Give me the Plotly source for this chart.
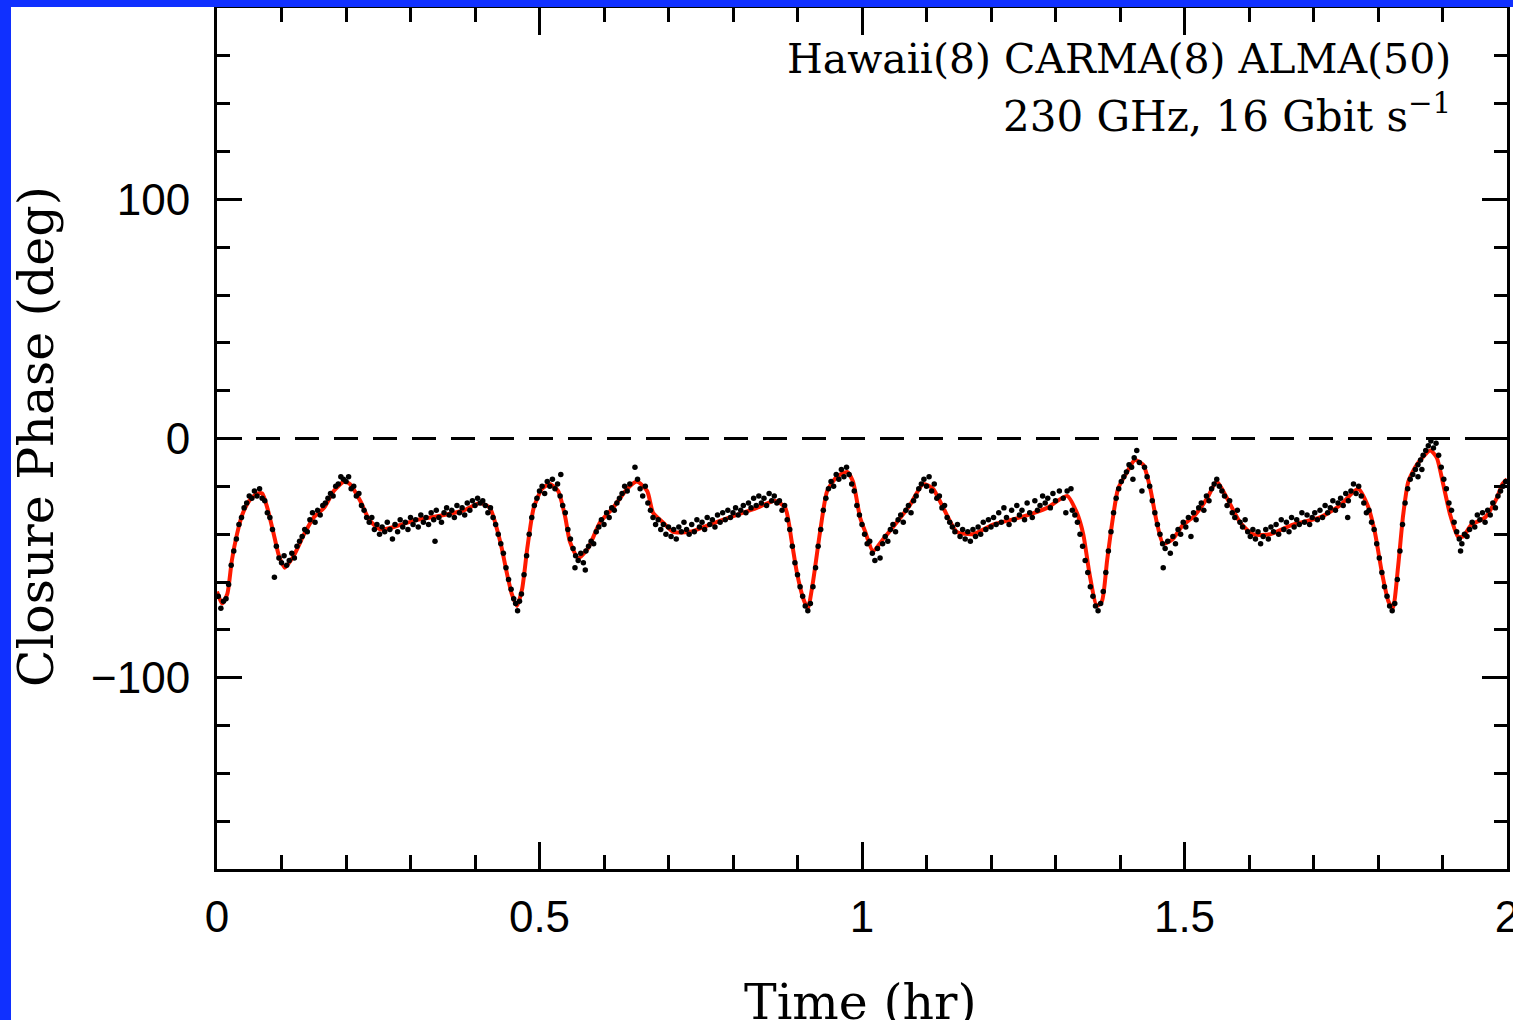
import plotly.graph_objects as go

# ---- model curve (red) ----
model_t = [0.000, 0.008, 0.016, 0.023, 0.031, 0.039, 0.050, 0.062, 0.070, 0.078, 0.088, 0.096,
           0.105, 0.119, 0.135, 0.150, 0.166, 0.181, 0.197, 0.206, 0.222, 0.236, 0.253, 0.274,
           0.310, 0.352, 0.383, 0.408, 0.423, 0.439, 0.450, 0.457, 0.465, 0.473, 0.481, 0.491,
           0.504, 0.516, 0.529, 0.540, 0.547, 0.560, 0.575, 0.594, 0.614, 0.636, 0.651, 0.667,
           0.676, 0.691, 0.707, 0.733, 0.764, 0.795, 0.837, 0.865, 0.881, 0.891, 0.899, 0.909,
           0.916, 0.924, 0.935, 0.946, 0.961, 0.977, 0.986, 0.997, 1.005, 1.017, 1.033, 1.054,
           1.074, 1.095, 1.110, 1.126, 1.147, 1.172, 1.203, 1.245, 1.287, 1.318, 1.333, 1.343,
           1.353, 1.364, 1.372, 1.380, 1.388, 1.397, 1.411, 1.423, 1.436, 1.447, 1.457, 1.467,
           1.482, 1.498, 1.513, 1.535, 1.550, 1.566, 1.586, 1.606, 1.633, 1.668, 1.710, 1.741,
           1.769, 1.784, 1.795, 1.806, 1.816, 1.823, 1.831, 1.839, 1.847, 1.860, 1.881, 1.891,
           1.901, 1.912, 1.924, 1.932, 1.945, 1.966, 1.984, 1.993, 2.000]
model_v = [-64, -69, -65, -51, -40, -32, -26, -23, -23, -29, -40, -49,
           -54, -49, -40, -33, -29, -22, -18, -19, -26, -34, -38, -37,
           -34, -32, -30, -27, -29, -43, -57, -65, -70, -63, -46, -29,
           -21, -19, -22, -33, -43, -50, -46, -35, -29, -21, -18, -22,
           -31, -35, -39, -39, -36, -33, -29, -26, -29, -43, -56, -67,
           -71, -60, -39, -22, -16, -14, -18, -33, -39, -47, -42, -35,
           -28, -19, -21, -29, -39, -40, -36, -33, -29, -24, -31, -40,
           -57, -70, -68, -51, -35, -21, -14, -9, -11, -21, -35, -44,
           -42, -36, -33, -25, -18, -25, -35, -40, -40, -36, -33, -28,
           -21, -28, -39, -56, -68, -71, -54, -32, -18, -11, -5, -8,
           -19, -32, -41, -41, -36, -33, -25, -19, -17]

# ---- measured closure phases (black dots) ----
data_t = [0.002, 0.006, 0.010, 0.014, 0.018, 0.022, 0.026, 0.030, 0.034, 0.038, 0.042, 0.046, 0.050,
          0.054, 0.058, 0.062, 0.066, 0.070, 0.074, 0.078, 0.082, 0.086, 0.089, 0.092, 0.096, 0.100,
          0.104, 0.108, 0.112, 0.116, 0.120, 0.124, 0.128, 0.132, 0.136, 0.140, 0.144, 0.148, 0.152,
          0.156, 0.160, 0.164, 0.168, 0.172, 0.176, 0.180, 0.184, 0.188, 0.192, 0.196, 0.200, 0.204,
          0.208, 0.212, 0.216, 0.220, 0.224, 0.228, 0.232, 0.236, 0.240, 0.244, 0.248, 0.252, 0.256,
          0.260, 0.264, 0.268, 0.272, 0.276, 0.280, 0.284, 0.288, 0.292, 0.296, 0.300,
          0.304, 0.308, 0.312, 0.316, 0.320, 0.324, 0.328, 0.332, 0.336, 0.338, 0.340, 0.344, 0.348,
          0.352, 0.356, 0.360, 0.364, 0.368, 0.372, 0.376, 0.380, 0.384, 0.388, 0.392, 0.396, 0.400,
          0.404, 0.408, 0.412, 0.416, 0.420, 0.424, 0.428, 0.432, 0.436, 0.440, 0.444, 0.448, 0.452,
          0.456, 0.460, 0.463, 0.466, 0.469, 0.472, 0.476, 0.480, 0.484, 0.488, 0.492, 0.496, 0.500,
          0.504, 0.508, 0.512, 0.516, 0.520, 0.524, 0.528, 0.532, 0.533, 0.536, 0.540, 0.544, 0.548,
          0.552, 0.555, 0.556, 0.560, 0.564, 0.568, 0.571, 0.572, 0.576, 0.580, 0.584, 0.588, 0.592,
          0.596, 0.600, 0.604, 0.608, 0.612, 0.616, 0.620, 0.624, 0.628, 0.632, 0.636, 0.640, 0.648,
          0.652, 0.656, 0.660, 0.664, 0.668, 0.672, 0.676, 0.680, 0.684, 0.688, 0.692, 0.696, 0.700,
          0.704, 0.708, 0.712, 0.716, 0.720, 0.724, 0.728, 0.732, 0.736, 0.740, 0.744, 0.748, 0.752,
          0.756, 0.760, 0.764, 0.768, 0.772, 0.776, 0.780, 0.784, 0.788, 0.792, 0.796, 0.800,
          0.804, 0.808, 0.812, 0.816, 0.820, 0.824, 0.828, 0.832, 0.836, 0.840, 0.844, 0.848, 0.852,
          0.856, 0.860, 0.864, 0.868, 0.872, 0.876, 0.880, 0.884, 0.888, 0.892, 0.896, 0.900,
          0.904, 0.908, 0.912, 0.916, 0.920, 0.924, 0.928, 0.932, 0.936, 0.940, 0.944, 0.948, 0.952,
          0.956, 0.960, 0.964, 0.968, 0.972, 0.976, 0.980, 0.984, 0.988, 0.992, 0.996, 1.000,
          1.004, 1.008, 1.012, 1.016, 1.020, 1.024, 1.028, 1.032, 1.036, 1.040, 1.044, 1.048, 1.052,
          1.056, 1.060, 1.064, 1.068, 1.072, 1.076, 1.080, 1.084, 1.088, 1.092, 1.096, 1.100,
          1.104, 1.108, 1.112, 1.116, 1.120, 1.124, 1.128, 1.132, 1.136, 1.140, 1.144, 1.148, 1.152,
          1.156, 1.160, 1.164, 1.168, 1.172, 1.176, 1.180, 1.184, 1.188, 1.192, 1.196, 1.200,
          1.204, 1.208, 1.212, 1.216, 1.220, 1.224, 1.228, 1.232, 1.236, 1.240, 1.244, 1.248, 1.252,
          1.256, 1.260, 1.264, 1.268, 1.272, 1.276, 1.280, 1.284, 1.288, 1.292, 1.296, 1.300,
          1.306, 1.312, 1.316, 1.318, 1.324, 1.326, 1.330, 1.334, 1.338, 1.342, 1.346, 1.350, 1.354,
          1.358, 1.362, 1.366, 1.370, 1.374, 1.378, 1.382, 1.386, 1.390, 1.394, 1.398, 1.402, 1.406,
          1.410, 1.414, 1.418, 1.420, 1.422, 1.426, 1.430, 1.434, 1.438, 1.442, 1.446, 1.450, 1.454,
          1.458, 1.462, 1.466, 1.467, 1.470, 1.474, 1.478, 1.482, 1.486, 1.490, 1.494, 1.498,
          1.502, 1.506, 1.510, 1.514, 1.518, 1.522, 1.526, 1.530, 1.534, 1.538, 1.542, 1.546, 1.550,
          1.554, 1.558, 1.562, 1.566, 1.570, 1.574, 1.578, 1.582, 1.586, 1.590, 1.594, 1.598,
          1.602, 1.606, 1.610, 1.614, 1.618, 1.622, 1.626, 1.630, 1.634, 1.638, 1.642, 1.646, 1.650,
          1.654, 1.658, 1.662, 1.666, 1.670, 1.674, 1.678, 1.682, 1.686, 1.690, 1.694, 1.698,
          1.702, 1.706, 1.710, 1.714, 1.718, 1.722, 1.726, 1.730, 1.734, 1.738, 1.742, 1.746, 1.750,
          1.753, 1.754, 1.758, 1.762, 1.766, 1.770, 1.774, 1.778, 1.782, 1.786, 1.790, 1.794, 1.798,
          1.802, 1.806, 1.810, 1.814, 1.818, 1.822, 1.826, 1.830, 1.834, 1.838, 1.842, 1.846, 1.850,
          1.854, 1.858, 1.862, 1.862, 1.866, 1.868, 1.870, 1.874, 1.878, 1.882, 1.886, 1.890, 1.894,
          1.898, 1.902, 1.906, 1.910, 1.914, 1.918, 1.922, 1.926, 1.928, 1.930, 1.934, 1.938, 1.942,
          1.946, 1.950, 1.954, 1.958, 1.962, 1.966, 1.970, 1.974, 1.978, 1.982, 1.986, 1.990, 1.994,
          1.998]
data_v = [-66, -71, -68, -67, -61, -53, -47, -42, -36, -33, -29, -27, -24,
          -25, -22, -24, -21, -25, -26, -31, -33, -38, -58, -45, -50, -52,
          -49, -53, -51, -48, -50, -45, -43, -41, -38, -39, -34, -31, -35,
          -30, -32, -28, -27, -25, -23, -24, -20, -19, -16, -17, -18, -16,
          -21, -20, -24, -23, -28, -30, -33, -35, -33, -38, -36, -40, -37,
          -39, -35, -38, -42, -36, -39, -34, -37, -35, -38, -33,
          -36, -34, -37, -32, -35, -33, -36, -31, -34, -43, -30, -33, -35,
          -31, -29, -32, -30, -33, -28, -31, -29, -32, -27, -30, -26, -28,
          -25, -27, -26, -28, -31, -29, -33, -36, -40, -44, -48, -54, -59,
          -63, -67, -69, -72, -68, -65, -57, -49, -40, -33, -28, -25, -22,
          -20, -23, -18, -20, -17, -21, -19, -24, -15, -28, -31, -38, -42,
          -46, -54, -49, -51, -48, -52, -55, -47, -45, -43, -44, -39, -37,
          -34, -36, -31, -33, -29, -30, -27, -25, -23, -20, -22, -19, -12,
          -17, -21, -24, -20, -27, -30, -33, -36, -34, -38, -36, -40, -37,
          -41, -38, -42, -37, -39, -35, -38, -40, -36, -39, -34, -37, -35,
          -38, -33, -36, -34, -37, -32, -35, -31, -34, -30, -33, -31,
          -29, -32, -30, -28, -31, -27, -29, -25, -28, -24, -27, -25, -28,
          -23, -26, -24, -27, -26, -30, -28, -34, -38, -45, -52, -57,
          -62, -66, -70, -72, -69, -62, -54, -45, -38, -30, -25, -21, -18,
          -20, -15, -17, -13, -16, -12, -15, -19, -22, -28, -32, -36,
          -40, -44, -43, -48, -51, -46, -50, -44, -41, -43, -38, -36, -39,
          -34, -32, -35, -30, -28, -31, -26, -24, -21, -19, -17, -20,
          -16, -22, -19, -25, -24, -29, -28, -33, -35, -37, -39, -36, -41,
          -38, -42, -39, -43, -38, -41, -37, -40, -35, -38, -34, -37,
          -33, -36, -31, -35, -29, -33, -36, -30, -34, -28, -32, -30, -34,
          -27, -31, -33, -26, -30, -28, -24, -27, -25, -29, -23, -26,
          -22, -25, -31, -22, -21, -30, -32, -35, -40, -45, -51, -56, -62,
          -66, -70, -72, -69, -64, -56, -47, -39, -31, -25, -21, -18, -16,
          -14, -11, -12, -17, -8, -5, -10, -22, -12, -16, -20, -26, -31,
          -36, -40, -44, -54, -46, -43, -48, -41, -44, -38, -40, -35,
          -37, -33, -41, -31, -34, -29, -27, -30, -24, -26, -21, -19, -17,
          -20, -22, -24, -28, -26, -31, -33, -30, -35, -37, -34, -39,
          -41, -38, -42, -39, -44, -41, -38, -42, -37, -39, -36, -40, -34,
          -38, -35, -39, -33, -37, -34, -36, -31, -35, -32, -36, -33,
          -31, -34, -30, -33, -28, -31, -29, -26, -30, -27, -25, -28, -23,
          -33, -26, -22, -19, -23, -20, -24, -27, -31, -30, -35, -38, -44,
          -50, -56, -62, -66, -70, -72, -69, -59, -47, -36, -27, -21, -17,
          -15, -13, -11, -16, -9, -13, -7, -5, -3, -1, -4, -2, -7,
          -12, -17, -21, -27, -30, -35, -39, -42, -47, -44, -40, -41, -38,
          -35, -37, -32, -34, -31, -35, -30, -32, -27, -29, -24, -22, -20,
          -18]

# ---- axis ticks and labels ----
x_range = [0, 2]
y_range = [-180, 180]
x_major = 0.5
x_minor = 0.1
y_major = 100
y_minor = 20
x_title = "Time (hr)"
y_title = "Closure Phase (deg)"
label_line1 = "Hawaii(8) CARMA(8) ALMA(50)"
label_line2 = "230 GHz, 16 Gbit s<sup>\u22121</sup>"

W, H = 1513, 1020
L, R, T, B = 217, 6, 8, 151
pw, ph = W - L - R, H - T - B

def px_x(px):
    return (px - L) / pw

def px_y(py):
    return (H - B - py) / ph

fig = go.Figure()
fig.add_trace(go.Scatter(x=model_t, y=model_v, mode="lines",
                         line=dict(color="#ff1a00", width=4, shape="spline", smoothing=0.6),
                         showlegend=False))
fig.add_trace(go.Scatter(x=data_t, y=data_v, mode="markers",
                         marker=dict(color="black", size=5.5, line=dict(width=0)),
                         showlegend=False))

fig.add_hline(y=0, line=dict(color="black", width=3, dash="24px,15px"), layer="below")

tickfont = dict(family="Liberation Sans, Arial, sans-serif", size=44, color="black")
axis_common = dict(showline=True, linecolor="black", linewidth=3, mirror="allticks",
                   ticks="inside", tickwidth=2.5, tickcolor="black",
                   showgrid=False, zeroline=False, tickfont=tickfont, automargin=False,
                   ticklabeloverflow="allow")

fig.update_xaxes(range=x_range, dtick=x_major, tick0=0, ticklen=27,
                 minor=dict(ticks="inside", dtick=x_minor, ticklen=14, tickwidth=2.5,
                            tickcolor="black", showgrid=False),
                 ticklabelstandoff=7, **axis_common)
fig.update_yaxes(range=y_range, dtick=y_major, tick0=0, ticklen=25,
                 minor=dict(ticks="inside", dtick=y_minor, ticklen=13, tickwidth=2.5,
                            tickcolor="black", showgrid=False),
                 ticklabelstandoff=15, **axis_common)

serif = "DejaVu Serif, serif"
fig.add_annotation(text=label_line1, xref="paper", yref="paper",
                   x=px_x(1453), y=px_y(59), xanchor="right", yanchor="middle",
                   showarrow=False, font=dict(family=serif, size=41, color="black"))
fig.add_annotation(text=label_line2, xref="paper", yref="paper",
                   x=px_x(1453), y=px_y(114), xanchor="right", yanchor="middle",
                   showarrow=False, font=dict(family=serif, size=42, color="black"))
fig.add_annotation(text=x_title, xref="paper", yref="paper",
                   x=px_x(860), y=px_y(1002), xanchor="center", yanchor="middle",
                   showarrow=False, font=dict(family=serif, size=49, color="black"))
fig.add_annotation(text=y_title, xref="paper", yref="paper",
                   x=px_x(36), y=px_y(437), xanchor="center", yanchor="middle", textangle=-90,
                   showarrow=False, font=dict(family=serif, size=49, color="black"))

blue = "#1030ff"
fig.add_shape(type="rect", xref="paper", yref="paper", x0=px_x(0), x1=px_x(11),
              y0=px_y(H), y1=px_y(0), fillcolor=blue, line=dict(width=0), layer="above")
fig.add_shape(type="rect", xref="paper", yref="paper", x0=px_x(0), x1=px_x(W),
              y0=px_y(7), y1=px_y(0), fillcolor=blue, line=dict(width=0), layer="above")

fig.update_layout(width=W, height=H, margin=dict(l=L, r=R, t=T, b=B, pad=0),
                  paper_bgcolor="white", plot_bgcolor="white", showlegend=False)

fig.write_html("out.html", config={"displayModeBar": False},
               post_script="document.body.style.margin='0';document.body.style.overflow='hidden';")
